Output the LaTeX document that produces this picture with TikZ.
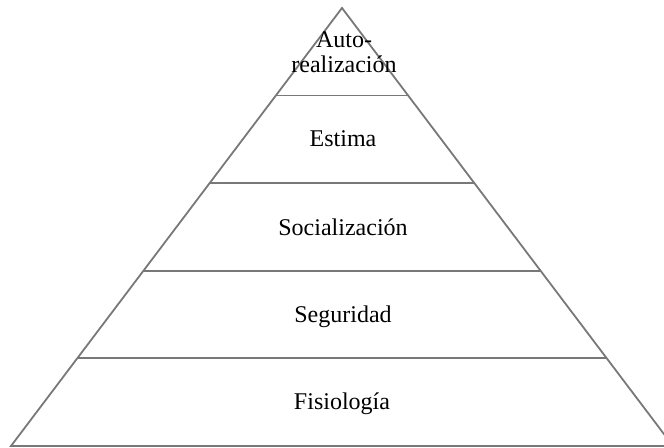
\documentclass[tikz,border=0pt]{standalone}
\usepackage{fontspec}
\setmainfont{Liberation Serif}
\usetikzlibrary{calc}

\begin{document}
\begin{tikzpicture}[x=0.5pt,y=-0.5pt,
     edgeline/.style = {draw={rgb,255:red,120;green,120;blue,120}, line width=0.9pt},
     levelnode/.style = {anchor=base, align=center, inner sep=0pt, font=\fontsize{12}{12.5}\selectfont}]
     \useasboundingbox (0,0) rectangle (664,448);
     \clip (0,0) rectangle (664,448);
     \coordinate (apex) at (342,8);
     \coordinate (bl) at (11,446);
     \coordinate (br) at (673,446);
     \draw[edgeline] (bl) -- (apex) -- (br) -- cycle;
     \foreach \i/\f in {1/0.2,2/0.4,3/0.6,4/0.8}{
          \coordinate (l\i) at ($(apex)!\f!(bl)$);
          \coordinate (r\i) at ($(apex)!\f!(br)$);
          \draw[edgeline] (l\i) -- (r\i);
     }
     \node[levelnode] (auto) at (344,73) {Auto-\\realización};
     \node[levelnode] (estima) at (343,147) {Estima};
     \node[levelnode] (social) at (343,236) {Socialización};
     \node[levelnode] (seguridad) at (343,323) {Seguridad};
     \node[levelnode] (fisio) at (342,410) {Fisiología};
\end{tikzpicture}
\end{document}
